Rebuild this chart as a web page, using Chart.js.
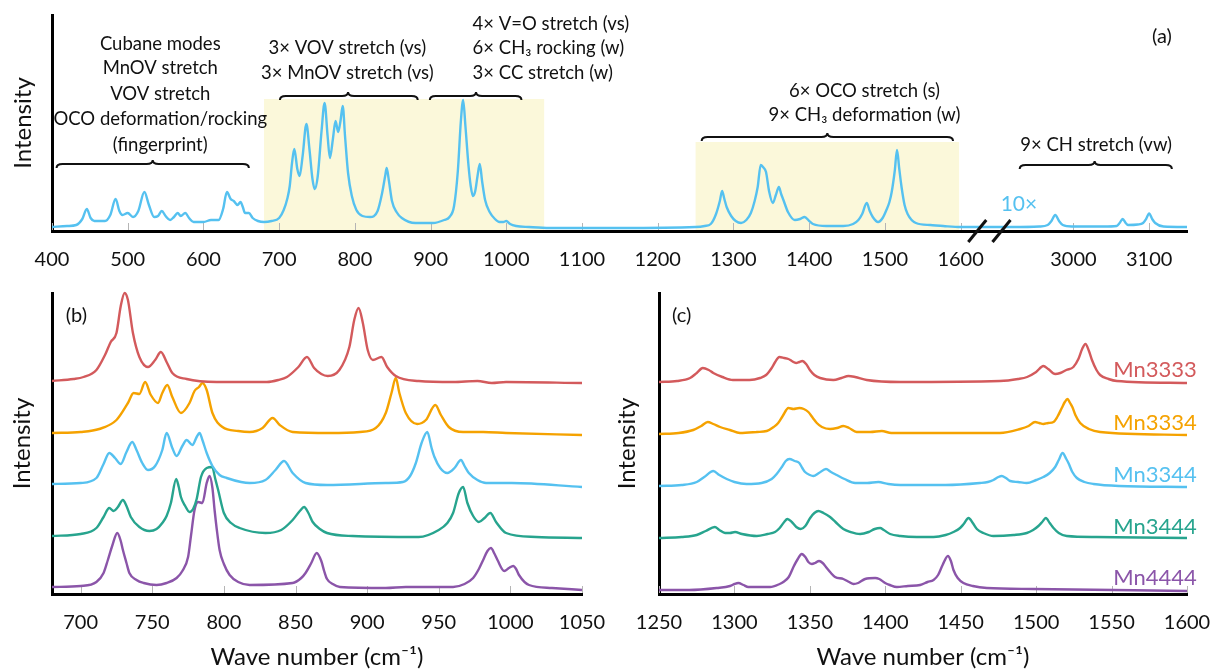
<!DOCTYPE html>
<html>
<head>
<meta charset="utf-8">
<script src="https://cdn.jsdelivr.net/npm/chart.js@4.4.0/dist/chart.umd.min.js"></script>
<style>
  html, body { margin: 0; padding: 0; background: #fff; }
  body { width: 1213px; height: 672px; position: relative; overflow: hidden; }
  canvas { position: absolute; }
</style>
</head>
<body>
<canvas id="chartA" width="1213" height="270" style="left:0;top:0"></canvas>
<canvas id="chartB" width="606" height="402" style="left:0;top:270px"></canvas>
<canvas id="chartC" width="607" height="402" style="left:606px;top:270px"></canvas>
<script>
const FONT = 'Lato, "DejaVu Sans", sans-serif';
// wave numbers past the axis break are drawn shifted left by this much
const SHIFT = 1251;

const ticksA = [400, 500, 600, 700, 800, 900, 1000, 1100, 1200, 1300, 1400, 1500, 1600, 3000, 3100];
const ticksB = [700, 750, 800, 850, 900, 950, 1000, 1050];
const ticksC = [1250, 1300, 1350, 1400, 1450, 1500, 1550, 1600];

const seriesNames = ['Mn3333', 'Mn3334', 'Mn3344', 'Mn3444', 'Mn4444'];
const seriesColors = ['#d35a5c', '#f5a200', '#55c1f0', '#27a48e', '#8b55a9'];
const stackOffsets = [210, 159, 106, 55, 3];

// (a) full spectrum, [wave number, intensity]
const specA = [
  [400,4],[420,5],[432,6],[440,12],[446,22],[451,13],[456,10],[470,10],[477,16],[484,32],[489,20],[493,16],
  [500,18],[507,14],[514,20],[522,39],[528,26],[535,14],[540,15],[545,20],[550,15],[556,11],[561,14],[566,18],
  [570,15],[576,18],[581,13],[587,9],[600,9],[610,11],[620,11],[626,22],[631,39],[636,32],[640,30],[645,26],
  [649,29],[652,24],[655,18],[660,18],[665,13],[672,10],[680,9],[690,10],[700,13],[706,21],[711,33],[714,45],
  [717,68],[720,82],[724,62],[727,55],[731,75],[736,107],[740,82],[744,52],[747,42],[751,55],[756,100],[760,128],
  [764,95],[767,73],[771,92],[774.5,110],[778,99],[781,110],[784,125],[787,95],[791,58],[796,35],[802,21],[810,15],
  [820,14],[830,20],[836,38],[840,55],[842,63],[845,50],[849,30],[855,19],[862,13],[880,8],[903,8],[918,11],
  [925,14],[931,25],[936,60],[940,110],[943,131],[946,105],[950,66],[953,45],[956,35],[959,40],[962,55],[965,67],
  [968,50],[972,31],[978,19],[985,12],[991,9],[996,9],[1000,10],[1005,7],[1013,5],[1030,4],[1057,3],[1150,3],
  [1250,4],[1262,5],[1270,7],[1277,17],[1282,30],[1285,40],[1288,32],[1291,24],[1297,15],[1303,10],[1310,8],
  [1317,11],[1323,18],[1328,30],[1332,44],[1336,66],[1339,64],[1343,59],[1347,40],[1352,28],[1356,36],[1360,44],
  [1363,37],[1366,31],[1372,19],[1381,11],[1388,12],[1394,14],[1400,10],[1405,7],[1423,5],[1445,5],[1458,7],
  [1465,11],[1470,17],[1476,28],[1480,20],[1484,14],[1491,9],[1497,13],[1502,21],[1506,29],[1509,39],[1513,60],
  [1516,81],[1519,62],[1522,44],[1526,26],[1530,17],[1541,8],[1560,6],[1577,5],[1600,4],
  [2920,4],[2955,4.5],[2966,6],[2971,10],[2976,16],[2981,10],[2986,6],[2998,4.5],[3040,4.5],[3057,5],[3061,8],
  [3065,12],[3069,8],[3072,6],[3085,6.5],[3092,8],[3096,12],[3100,17.5],[3104,12],[3108,8],[3119,4.5],[3150,4]
];

// (b) 680-1050 cm-1, one array per compound, [wave number, intensity above its own baseline]
const b3333 = [[680,3],[695,5],[702,7],[711,14],[717,29],[721,42],[725,51],[728,78],[730.7,91],[733,84],[736.5,51],[741,27],[747,17],[752,24],[756,32],[760,22],[764,11],[774,5],[795,2],[830,2],[838,4],[844,7],[852,17],[858,27],[863,16],[868,10],[872.5,8],[880.6,14],[887.6,37],[891,64],[894,76],[897,61],[900.4,34],[904,24],[910,27],[914,17],[920,8],[936,3],[960,2],[977,3],[987,1],[997,2],[1050,1]];
const b3334 = [[680,2],[700,3],[713,6],[725,15],[733,32],[737,42],[741,41],[745,53],[749,40],[754,32],[757,42],[760.5,50],[764,38],[770,22],[776,32],[779.5,44],[782.6,48],[785,52],[788,45],[792,22],[799,8],[810,4],[818,3],[827,7],[834,17],[839,10],[848,3],[874,2],[895,3],[906,7],[913,22],[917,42],[920,57],[922.5,42],[927,22],[935,11],[941,15],[947.6,30],[951.5,20],[957,8],[967,3],[981,3],[997,2],[1050,0]];
const b3344 = [[680,4],[700,5],[711,10],[716,24],[720,35],[724,30],[728,24],[732,36],[736,46],[739,38],[743,25],[747,18],[752,22],[757,38],[760,55],[764,40],[767,32],[771,42],[774,48],[778,43],[781,51],[783,55],[785,48],[788,35],[792,22],[797,13],[802,10],[812,6],[818,5],[829,8],[836,18],[842,27],[848,15],[857,5],[872,3],[913,5],[925,6],[930,12],[934,25],[938,45],[942,56],[945,40],[947,31],[951,20],[956,15],[961,20],[965.5,28],[968,22],[971,15],[977,8],[983,5],[1001,5],[1050,1]];
const b3444 = [[680,3],[700,5],[711,11],[716,22],[720,31],[723,28],[726,32],[729.5,39],[732,33],[735,22],[741,12],[748,8],[753,10],[757,16],[760,23],[763,36],[766.7,60],[768.5,52],[770,42],[773,33],[776,27],[778.5,30],[781,40],[784,62],[788,71],[791.8,72],[794,60],[796,49],[800,26],[805,16],[811,11],[829,6],[840,9],[848,19],[853,28],[856,32],[859,26],[862,17],[867,10],[872,6],[890,3],[936,2],[950,9],[956,16],[960,26],[964,46],[967,52],[970,36],[974,23],[978,17],[982,21],[986,26],[990,17],[997,6],[1018,2],[1050,1]];
const b4444 = [[680,4],[700,5],[711,9],[716,18],[719,31],[722,45],[725.6,58],[728,50],[729.5,41],[732,28],[734,18],[739,11],[744,8],[753,6],[760,8],[767,13],[771,20],[775,34],[777,55],[779.5,81],[782,89],[785,88],[788,108],[790,115],[792,103],[793.5,81],[795,62],[797,41],[800,27],[804,16],[810,9],[818,6],[848,8],[854,13],[857,18],[861,28],[864.8,38],[868,30],[870,20],[872,12],[876,7],[881,4],[913,3],[927,4],[960,4],[968,7],[974,13],[978,22],[981,31],[984,40],[986.4,43],[989,37],[991,31],[995.7,20],[999,23],[1002,25],[1004,22],[1006,16],[1013,6],[1029,3],[1050,1]];

// (c) 1250-1600 cm-1
const c3333 = [[1250,2],[1262,3],[1270.6,6],[1275,11],[1279,16],[1283,14],[1286,11],[1292,7],[1299,4],[1310,4],[1317,6],[1321,9],[1324.7,16],[1327,22],[1329.8,27],[1333,26],[1335.8,25],[1338,23],[1340.9,21],[1343,22],[1345,23],[1347.5,20],[1350,14],[1353,9],[1356.8,6],[1365.6,4],[1371,6],[1375.6,8],[1380,7],[1387.7,4],[1410,2],[1476,3],[1488,5],[1494,7],[1500,12],[1504.8,18],[1508,15],[1512.6,10],[1516,11],[1520,14],[1524.7,17],[1528,25],[1530.5,35],[1532.7,40],[1535,33],[1537,24],[1540,14],[1542.4,9],[1548,5],[1553.5,3],[1600,1]];
const c3334 = [[1250,1],[1263,2],[1272.7,5],[1278,9],[1282.3,13],[1286,11],[1290.5,8],[1297,5],[1303.7,2],[1315,3],[1321.4,4],[1326,8],[1329,12],[1332,19],[1335.8,27],[1339.1,26],[1343,27],[1346,26],[1349,23],[1352,17],[1354.6,12],[1358,8],[1363.4,6],[1368,7],[1372.2,9],[1376,7],[1381,3],[1390,3],[1397.7,4],[1404,2],[1410,2],[1476,2],[1489.4,6],[1495,9],[1499.3,13],[1502,12],[1504.8,11],[1508,12],[1511.5,13],[1514,18],[1517,27],[1519,33],[1520.8,36],[1522.5,32],[1524,28],[1526,20],[1529.2,12],[1535,6],[1542.4,3],[1600,0]];
const c3344 = [[1250,2],[1265,3],[1275,6],[1280,11],[1286,17],[1290,13],[1294.9,9],[1300,6],[1308,4],[1318,5],[1324.7,9],[1328,14],[1331.4,21],[1334,27],[1336.4,29],[1340,27],[1343,25],[1345,20],[1346.8,16],[1350,13],[1352.3,12],[1356,15],[1360.7,19],[1364,16],[1367.8,13],[1373,9],[1380,5],[1388,5],[1395.4,6],[1402,4],[1410,3],[1440,3],[1462.8,5],[1468,6],[1471.7,8],[1475,11],[1477.2,12],[1480,10],[1482.8,7],[1488,6],[1493.8,5],[1500,8],[1504.8,11],[1509,15],[1512.6,21],[1515,28],[1517.5,35],[1520,29],[1521.4,25],[1524,16],[1527,10],[1532,6],[1538,4],[1555,2],[1600,1]];
const c3444 = [[1250,1],[1265,2],[1275,4],[1281,8],[1287,12],[1290,9],[1293.8,6],[1297,6],[1300.4,7],[1305,5],[1314.8,3],[1322,5],[1326.9,7],[1330,11],[1333,17],[1335.1,20],[1338,17],[1341,12],[1344,10],[1347,13],[1350.2,21],[1353,26],[1355.7,28],[1359,26],[1363.4,22],[1367,17],[1372.2,10],[1377,7],[1383.3,5],[1389,7],[1393,10],[1396.6,11],[1399,9],[1403.2,5],[1410,3],[1420.9,2],[1432,2],[1440,4],[1445.2,7],[1449.6,11],[1452,15],[1455.2,21],[1458,16],[1460.7,10],[1465,6],[1471.7,3],[1485,4],[1493.8,6],[1498,9],[1501.5,13],[1504,17],[1506.4,21],[1509,16],[1511.5,11],[1515,6],[1520.3,3],[1540,2],[1600,1]];
const c4444 = [[1250,1],[1270,1],[1288.3,3],[1297.1,5],[1300,7],[1302.6,8],[1306,6],[1309.2,4],[1323.6,4],[1330,7],[1332.4,9],[1336,14],[1339.1,24],[1342,32],[1344.6,37],[1347,34],[1349,29],[1351.3,27],[1353.5,28],[1356.1,30],[1358.5,28],[1361.2,23],[1364,18],[1366.7,14],[1372.2,12],[1376,9],[1378.9,7],[1382,8],[1386.6,12],[1393.3,13],[1396,12],[1399.9,8],[1403,6],[1407.7,4],[1415,5],[1423.1,6],[1428,9],[1432,11],[1435,16],[1438,26],[1441.5,35],[1443.5,30],[1445.2,21],[1448,13],[1451.8,8],[1458,5],[1467.3,3],[1498,2],[1600,0]];

const seriesB = [b3333, b3334, b3344, b3444, b4444];
const seriesC = [c3333, c3334, c3344, c3444, c4444];

// annotations of panel (a)
const highlightA = [{ from: 680, to: 1050, top: 132 }, { from: 1250, to: 1598, top: 89 }];
const bracesA = [
  { from: 406, to: 660, tip: 533, y: 67 },
  { from: 701, to: 883, tip: 791, y: 135 },
  { from: 899, to: 1020, tip: 960, y: 135 },
  { from: 1258, to: 1590, tip: 1424, y: 94 },
  { from: 2929, to: 3130, tip: 3028, y: 66 }
];
const labelsA = [
  { text: 'Cubane modes', x: 543, y: 187 },
  { text: 'MnOV stretch', x: 543, y: 162.5 },
  { text: 'VOV stretch', x: 543, y: 137 },
  { text: 'OCO deformation/rocking', x: 543, y: 111.5 },
  { text: '(fingerprint)', x: 543, y: 86 },
  { text: '3× VOV stretch (vs)', x: 790, y: 182.5 },
  { text: '3× MnOV stretch (vs)', x: 790, y: 158 },
  { text: '4× V=O stretch (vs)', x: 955.5, y: 207, align: 'left' },
  { text: '6× CH₃ rocking (w)', x: 955.5, y: 182.5, align: 'left' },
  { text: '3× CC stretch (w)', x: 955.5, y: 158, align: 'left' },
  { text: '6× OCO stretch (s)', x: 1473, y: 140 },
  { text: '9× CH₃ deformation (w)', x: 1473, y: 115.5 },
  { text: '9× CH stretch (vw)', x: 3030, y: 86 },
  { text: '10×', x: 2928, y: 27, color: '#55c1f0', size: 21 },
  { text: '(a)', x: 3117, y: 194, size: 20 }
];
const breakMarks = [1622, 1654];

const toAxis = v => v > 2500 ? v - SHIFT : v;
const fromAxis = v => v > 1700 ? v + SHIFT : v;

const overlay = {
  id: 'overlay',
  beforeDraw(chart, args, o) {
    const { ctx, chartArea, scales: { x, y } } = chart;
    ctx.save();
    ctx.fillStyle = '#fbf8da';
    (o.boxes || []).forEach(b => {
      const l = x.getPixelForValue(b.from), r = x.getPixelForValue(b.to), t = y.getPixelForValue(b.top);
      ctx.fillRect(l, t, r - l, chartArea.bottom - t);
    });
    ctx.restore();
  },
  beforeDatasetsDraw(chart) {
    const { ctx, chartArea, scales: { x } } = chart;
    ctx.save();
    ctx.strokeStyle = '#b5b5b5';
    ctx.lineWidth = 1;
    x.ticks.forEach(t => {
      const px = Math.round(x.getPixelForValue(t.value)) + 0.5;
      ctx.beginPath();
      ctx.moveTo(px, chartArea.bottom - 1);
      ctx.lineTo(px, chartArea.bottom - 8);
      ctx.stroke();
    });
    ctx.restore();
  },
  afterDraw(chart, args, o) {
    const { ctx, chartArea, scales: { x, y } } = chart;
    ctx.save();
    ctx.strokeStyle = '#111';
    ctx.lineWidth = 2;
    (o.braces || []).forEach(b => {
      const x1 = x.getPixelForValue(toAxis(b.from)), x2 = x.getPixelForValue(toAxis(b.to));
      const xm = x.getPixelForValue(toAxis(b.tip)), py = y.getPixelForValue(b.y);
      ctx.beginPath();
      ctx.moveTo(x1, py + 4);
      ctx.quadraticCurveTo(x1, py, x1 + 6, py);
      ctx.lineTo(xm - 6, py);
      ctx.quadraticCurveTo(xm, py, xm, py - 4);
      ctx.quadraticCurveTo(xm, py, xm + 6, py);
      ctx.lineTo(x2 - 6, py);
      ctx.quadraticCurveTo(x2, py, x2, py + 4);
      ctx.stroke();
    });
    ctx.lineWidth = 3;
    (o.breaks || []).forEach(v => {
      const px = x.getPixelForValue(v);
      ctx.beginPath();
      ctx.moveTo(px - 9, chartArea.bottom + 11);
      ctx.lineTo(px + 9, chartArea.bottom - 11);
      ctx.stroke();
    });
    ctx.textBaseline = 'middle';
    (o.labels || []).forEach(l => {
      ctx.font = (l.size || 18.5) + 'px ' + FONT;
      ctx.fillStyle = l.color || '#111';
      ctx.textAlign = l.align || 'center';
      ctx.fillText(l.text, x.getPixelForValue(toAxis(l.x)), y.getPixelForValue(l.y));
    });
    ctx.restore();
  }
};

function makeOptions(cfg) {
  return {
    responsive: false,
    animation: false,
    events: [],
    layout: { padding: cfg.padding },
    plugins: { legend: { display: false }, tooltip: { enabled: false }, overlay: cfg.overlay },
    scales: {
      x: {
        type: 'linear',
        min: cfg.xMin,
        max: cfg.xMax,
        afterBuildTicks: s => { s.ticks = cfg.ticks.map(v => ({ value: toAxis(v) })); },
        // keep the plot edges fixed; end labels may hang past them
        afterFit: s => { s.height = cfg.xHeight; s.paddingLeft = 0; s.paddingRight = 0; },
        ticks: { autoSkip: false, maxRotation: 0, padding: 17, color: '#111', font: { family: FONT, size: 20 }, callback: v => String(fromAxis(v)) },
        grid: { display: true, drawOnChartArea: false, drawTicks: false },
        border: { display: true, color: '#000', width: 3 },
        title: { display: !!cfg.xTitle, text: cfg.xTitle || '', color: '#111', font: { family: FONT, size: 24 }, padding: { top: 0, bottom: 0 } }
      },
      y: {
        min: 0,
        max: cfg.yMax,
        afterFit: s => { s.width = cfg.yWidth; },
        ticks: { display: false },
        grid: { display: true, drawOnChartArea: false, drawTicks: false },
        border: { display: true, color: '#000', width: 3 },
        title: { display: true, text: 'Intensity', color: '#111', font: { family: FONT, size: 24 }, padding: { top: cfg.yTitlePad, bottom: 0 } }
      }
    }
  };
}

function lineSet(points, color) {
  return {
    data: points,
    borderColor: color,
    borderWidth: 2.4,
    pointRadius: 0,
    fill: false,
    cubicInterpolationMode: 'monotone',
    clip: 8
  };
}

new Chart(document.getElementById('chartA'), {
  type: 'line',
  data: { datasets: [lineSet(specA.map(([x, y]) => ({ x: toAxis(x), y })), '#55c1f0')] },
  options: makeOptions({
    xMin: 400, xMax: toAxis(3150), yMax: 216, ticks: ticksA,
    padding: { top: 15, right: 26, left: 0, bottom: 0 },
    xHeight: 39, yWidth: 52, yTitlePad: 9,
    overlay: { boxes: highlightA, braces: bracesA, labels: labelsA, breaks: breakMarks }
  }),
  plugins: [overlay]
});

function stackedSets(series) {
  return series.map((s, i) => lineSet(s.map(([x, y]) => ({ x, y: y + stackOffsets[i] })), seriesColors[i]));
}

new Chart(document.getElementById('chartB'), {
  type: 'line',
  data: { datasets: stackedSets(seriesB) },
  options: makeOptions({
    xMin: 680, xMax: 1050, yMax: 301, ticks: ticksB,
    padding: { top: 23, right: 24, left: 0, bottom: 0 },
    xHeight: 78, yWidth: 52, yTitlePad: 8, xTitle: 'Wave number (cm⁻¹)',
    overlay: { labels: [{ text: '(b)', x: 697, y: 278, size: 20 }] }
  }),
  plugins: [overlay]
});

const nameY = [224, 171.5, 119, 67.5, 16];
new Chart(document.getElementById('chartC'), {
  type: 'line',
  data: { datasets: stackedSets(seriesC) },
  options: makeOptions({
    xMin: 1250, xMax: 1600, yMax: 301, ticks: ticksC,
    padding: { top: 23, right: 26, left: 0, bottom: 0 },
    xHeight: 78, yWidth: 53, yTitlePad: 7, xTitle: 'Wave number (cm⁻¹)',
    overlay: {
      labels: [{ text: '(c)', x: 1265, y: 278, size: 20 }].concat(
        seriesNames.map((n, i) => ({ text: n, x: 1606.5, y: nameY[i], color: seriesColors[i], size: 22, align: 'right' })))
    }
  }),
  plugins: [overlay]
});
</script>
</body>
</html>
